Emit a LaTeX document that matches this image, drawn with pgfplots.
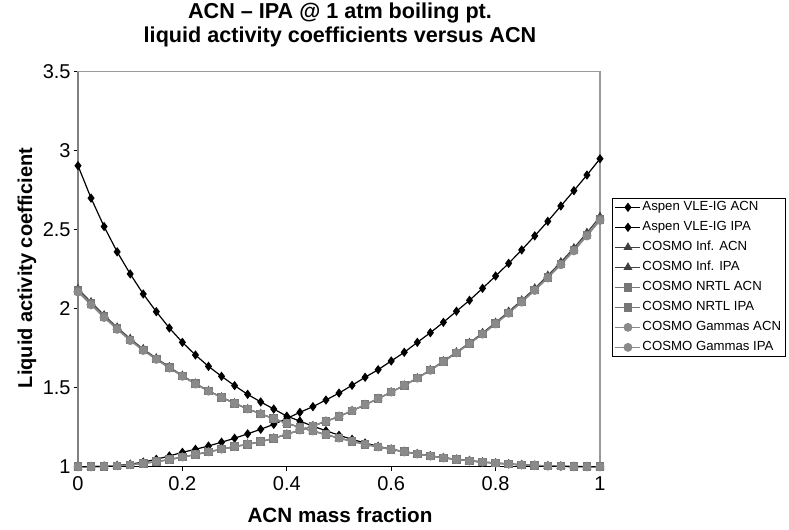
\documentclass[border=0pt]{standalone}
\usepackage{fontspec}
\setmainfont{Liberation Sans}
\usepackage{pgfplots}
\usepackage{pgfplotstable}
\pgfplotsset{compat=1.18}
\definecolor{cinf}{HTML}{404040}
\definecolor{cnrtl}{HTML}{777777}
\definecolor{cgam}{HTML}{8A8A8A}
\definecolor{frame}{HTML}{9A9A9A}

% x  aspenACN aspenIPA infACN infIPA nrtlACN nrtlIPA gamACN gamIPA
\pgfplotstableread{
x     a1    a2    i1    i2    n1    n2    g1    g2
0     2.905 1.000 2.125 1.000 2.115 1.000 2.105 1.000
0.025 2.700 1.000 2.042 1.000 2.032 1.000 2.024 1.000
0.05  2.520 1.003 1.959 1.002 1.950 1.002 1.944 1.002
0.075 2.360 1.008 1.882 1.005 1.874 1.005 1.869 1.005
0.1   2.220 1.016 1.810 1.012 1.803 1.012 1.798 1.012
0.125 2.093 1.029 1.745 1.021 1.739 1.021 1.735 1.021
0.15  1.981 1.047 1.687 1.032 1.682 1.032 1.679 1.032
0.175 1.878 1.068 1.631 1.045 1.627 1.045 1.624 1.045
0.2   1.787 1.091 1.577 1.061 1.574 1.061 1.572 1.061
0.225 1.707 1.110 1.527 1.077 1.525 1.077 1.523 1.077
0.25  1.635 1.131 1.481 1.094 1.479 1.094 1.478 1.094
0.275 1.572 1.155 1.440 1.111 1.439 1.111 1.438 1.111
0.3   1.513 1.180 1.402 1.127 1.401 1.127 1.400 1.127
0.325 1.458 1.208 1.366 1.142 1.366 1.142 1.365 1.142
0.35  1.410 1.237 1.335 1.158 1.335 1.158 1.334 1.158
0.375 1.365 1.268 1.304 1.180 1.304 1.180 1.304 1.180
0.4   1.320 1.305 1.275 1.205 1.275 1.205 1.275 1.205
0.425 1.289 1.344 1.249 1.232 1.249 1.232 1.249 1.232
0.45  1.256 1.380 1.226 1.258 1.226 1.258 1.226 1.258
0.475 1.228 1.422 1.203 1.287 1.203 1.287 1.203 1.287
0.5   1.199 1.466 1.181 1.318 1.181 1.318 1.181 1.318
0.525 1.173 1.515 1.161 1.354 1.161 1.354 1.161 1.354
0.55  1.150 1.566 1.142 1.392 1.142 1.392 1.142 1.392
0.575 1.129 1.614 1.125 1.431 1.125 1.431 1.125 1.431
0.6   1.110 1.669 1.110 1.472 1.110 1.472 1.110 1.472
0.625 1.095 1.724 1.095 1.515 1.095 1.515 1.095 1.515
0.65  1.082 1.787 1.081 1.561 1.081 1.560 1.081 1.560
0.675 1.069 1.848 1.068 1.613 1.068 1.611 1.068 1.610
0.7   1.057 1.914 1.056 1.668 1.056 1.665 1.056 1.664
0.725 1.047 1.984 1.046 1.725 1.046 1.721 1.046 1.720
0.75  1.038 2.053 1.037 1.784 1.037 1.779 1.037 1.778
0.775 1.030 2.129 1.029 1.847 1.029 1.841 1.029 1.839
0.8   1.023 2.207 1.023 1.912 1.023 1.905 1.023 1.903
0.825 1.017 2.287 1.017 1.982 1.017 1.974 1.017 1.971
0.85  1.012 2.372 1.012 2.053 1.012 2.044 1.012 2.041
0.875 1.008 2.461 1.008 2.129 1.008 2.119 1.008 2.115
0.9   1.005 2.553 1.005 2.210 1.005 2.199 1.005 2.194
0.925 1.003 2.650 1.003 2.295 1.003 2.283 1.003 2.278
0.95  1.001 2.747 1.001 2.384 1.001 2.371 1.001 2.366
0.975 1.000 2.846 1.000 2.481 1.000 2.466 1.000 2.460
1     1.000 2.949 1.000 2.582 1.000 2.566 1.000 2.558
}\gamma

\begin{document}
\begin{tikzpicture}
\begin{axis}[
    at={(0,0)}, anchor=south west,
    scale only axis,
    width=391.5pt, height=296.25pt,
    xmin=0, xmax=1, ymin=1, ymax=3.5,
    xtick={0,0.2,0.4,0.6,0.8,1},
    ytick={1,1.5,2,2.5,3,3.5},
    xtick pos=bottom, ytick pos=left,
    tick align=outside,
    major tick length=3pt,
    tick style={black, line width=0.6pt},
    axis line style={draw=frame, line width=0.8pt},
    /pgf/number format/assume math mode=true,
    tick label style={font=\fontsize{15}{17}\selectfont},
    yticklabel style={xshift=1pt},
    xticklabel style={yshift=-1pt},
    clip=false,
    legend cell align=left,
    legend style={at={(1.0224,0.6795)}, anchor=north west,
        draw=black, line width=0.6pt,
        font=\fontsize{9.9}{11}\selectfont,
        inner xsep=2pt, inner ysep=2pt,
        row sep=6pt,
        nodes={inner xsep=1pt, inner ysep=0pt, text height=7pt, text depth=2pt}},
    legend image code/.code={
        \draw[mark repeat=2, mark phase=2, #1]
        plot coordinates {(0pt,0pt) (9.4pt,0pt) (18.8pt,0pt)};},
]
\addplot[black, line width=0.9pt, mark=diamond*, mark size=2.8pt,
    mark options={solid, fill=black}] table[x=x, y=a1] {\gamma};
\addlegendentry{Aspen VLE-IG ACN}
\addplot[black, line width=0.9pt, mark=diamond*, mark size=2.8pt,
    mark options={solid, fill=black}] table[x=x, y=a2] {\gamma};
\addlegendentry{Aspen VLE-IG IPA}
\addplot[cinf, line width=0.9pt, mark=triangle*, mark size=3pt,
    mark options={solid, fill=cinf}] table[x=x, y=i1] {\gamma};
\addlegendentry{COSMO Inf. ACN}
\addplot[cinf, line width=0.9pt, mark=triangle*, mark size=3pt,
    mark options={solid, fill=cinf}] table[x=x, y=i2] {\gamma};
\addlegendentry{COSMO Inf. IPA}
\addplot[cnrtl, line width=1pt, mark=square*, mark size=2.7pt,
    mark options={solid, fill=cnrtl}] table[x=x, y=n1] {\gamma};
\addlegendentry{COSMO NRTL ACN}
\addplot[cnrtl, line width=1pt, mark=square*, mark size=2.7pt,
    mark options={solid, fill=cnrtl}] table[x=x, y=n2] {\gamma};
\addlegendentry{COSMO NRTL IPA}
\addplot[cgam, line width=1pt, mark=*, mark size=2.8pt,
    mark options={solid, fill=cgam}] table[x=x, y=g1] {\gamma};
\addlegendentry{COSMO Gammas ACN}
\addplot[cgam, line width=1pt, mark=*, mark size=2.8pt,
    mark options={solid, fill=cgam}] table[x=x, y=g2] {\gamma};
\addlegendentry{COSMO Gammas IPA}
\draw[black, line width=0.6pt] (rel axis cs:0,0) -- (rel axis cs:1,0);
\draw[gray, line width=1.8pt] (rel axis cs:0,0) -- (rel axis cs:0,1);
\end{axis}
\begin{scope}[x=0.75pt, y=0.75pt]
\path[use as bounding box] (-78,-62.3) rectangle (711,466.7);
\node[font=\bfseries\fontsize{16.2}{18}\selectfont, align=center]
    at (262,441.7) {ACN -- IPA @ 1 atm boiling pt.\\liquid activity coefficients versus ACN};
\node[font=\bfseries\fontsize{15.5}{18}\selectfont] at (262,-48.3) {ACN mass fraction};
\node[font=\bfseries\fontsize{15}{18}\selectfont, rotate=90] at (-51,198.7) {Liquid activity coefficient};
\end{scope}
\end{tikzpicture}
\end{document}
